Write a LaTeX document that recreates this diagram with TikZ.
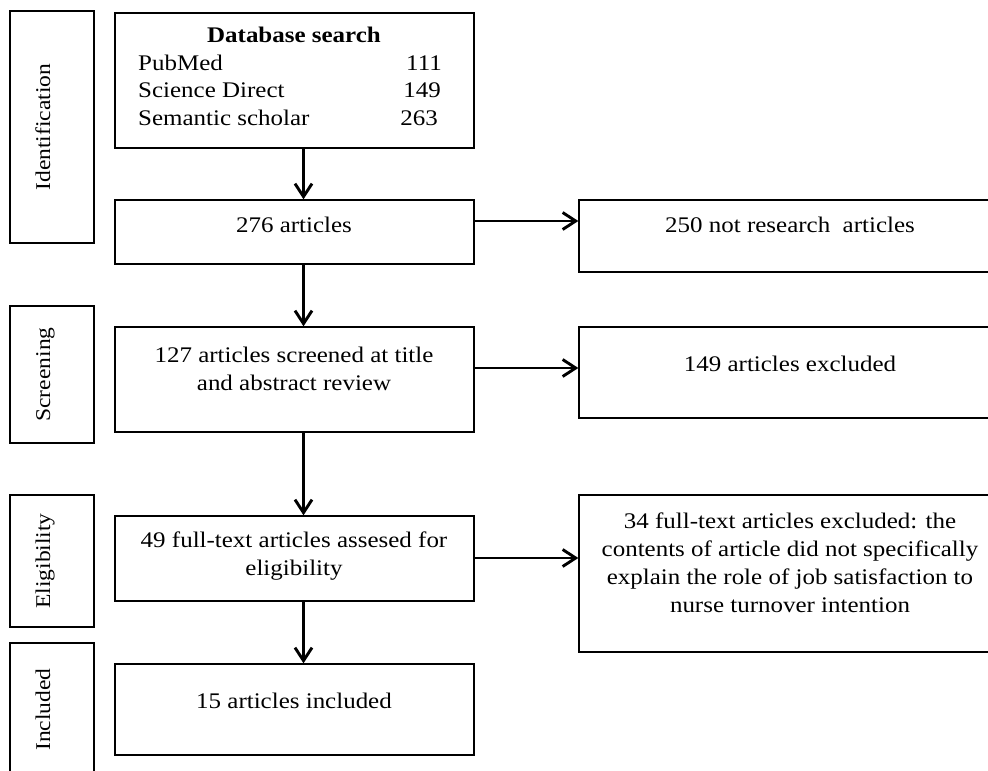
\documentclass[tikz,border=0pt]{standalone}
\usepackage{fontspec}
\setmainfont{Liberation Serif}[FakeStretch=1.12]
\usetikzlibrary{arrows.meta}
\tikzset{
  box/.style={draw, rectangle, line width=1.4pt, inner sep=0pt},
  txt/.style={anchor=base, inner sep=0pt, font=\fontsize{22.3}{28}\selectfont},
  side/.style={anchor=base, inner sep=0pt, rotate=90, font=\fontsize{21}{26}\selectfont},
  arr/.style={line width=2.9pt, -{Straight Barb[length=13pt,width=17pt,line width=2.9pt]}}
}
\begin{document}
\begin{tikzpicture}[x=1pt,y=-1pt]
\useasboundingbox (0,0) rectangle (988,771);
% side boxes
\node[box, minimum width=84pt, minimum height=232pt] (idn) at (52,127) {};
\node[box, minimum width=84pt, minimum height=137pt] (scr) at (52,374.5) {};
\node[box, minimum width=84pt, minimum height=132pt] (eli) at (52,561) {};
\node[box, minimum width=84pt, minimum height=133pt] (inc) at (52,709.5) {};
\node[side] (tidn) at (50,127) {Identification};
\node[side] (tscr) at (50,374.5) {Screening};
\node[side] (teli) at (50,561) {Eligibility};
\node[side] (tinc) at (50,709.5) {Included};
% main boxes
\node[box, minimum width=359pt, minimum height=135pt] (db) at (294.5,80.5) {};
\node[box, minimum width=359pt, minimum height=64pt] (n276) at (294.5,232) {};
\node[box, minimum width=359pt, minimum height=105pt] (n127) at (294.5,379.5) {};
\node[box, minimum width=359pt, minimum height=85pt] (n49) at (294.5,558.5) {};
\node[box, minimum width=359pt, minimum height=91pt] (n15) at (294.5,709.5) {};
% right boxes
\node[box, minimum width=422pt, minimum height=72pt] (r250) at (790,236) {};
\node[box, minimum width=422pt, minimum height=91pt] (r149) at (790,372.5) {};
\node[box, minimum width=422pt, minimum height=157pt] (r34) at (790,573.5) {};
% texts
\node[txt, font=\fontsize{22.3}{28}\selectfont\bfseries] (tdb) at (294,42) {Database search};
\node[txt, anchor=base west] (tpm) at (138,70) {PubMed};
\node[txt, anchor=base west] (tsd) at (138,97) {Science Direct};
\node[txt, anchor=base west] (tss) at (138,125) {Semantic scholar};
\node[txt, anchor=base east] (npm) at (442,70) {111};
\node[txt, anchor=base east] (nsd) at (441,97) {149};
\node[txt, anchor=base east] (nss) at (438,125) {263};
\node[txt] (t276) at (294,232) {276 articles};
\node[txt] (t250) at (790,232) {250 not research\ \ articles};
\node[txt] (t127a) at (294,362) {127 articles screened at title};
\node[txt] (t127b) at (294,390) {and abstract review};
\node[txt] (t149) at (790,371) {149 articles excluded};
\node[txt] (t49a) at (294,547) {49 full-text articles assesed for};
\node[txt] (t49b) at (294,575) {eligibility};
\node[txt] (t34a) at (790,528) {34 full-text articles excluded: the};
\node[txt] (t34b) at (790,556) {contents of article did not specifically};
\node[txt] (t34c) at (790,584) {explain the role of job satisfaction to};
\node[txt] (t34d) at (790,612) {nurse turnover intention};
\node[txt] (t15) at (294,708) {15 articles included};
% connectors
\coordinate (ax) at (303.5,0);
\coordinate (h1) at (0,221);
\coordinate (h2) at (0,368);
\coordinate (h3) at (0,558);
\draw[arr] (db.south -| ax) -- (n276.north -| ax);
\draw[arr] (n276.south -| ax) -- (n127.north -| ax);
\draw[arr] (n127.south -| ax) -- (n49.north -| ax);
\draw[arr] (n49.south -| ax) -- (n15.north -| ax);
\draw[arr] (n276.east |- h1) -- (r250.west |- h1);
\draw[arr] (n127.east |- h2) -- (r149.west |- h2);
\draw[arr] (n49.east |- h3) -- (r34.west |- h3);
\end{tikzpicture}
\end{document}
